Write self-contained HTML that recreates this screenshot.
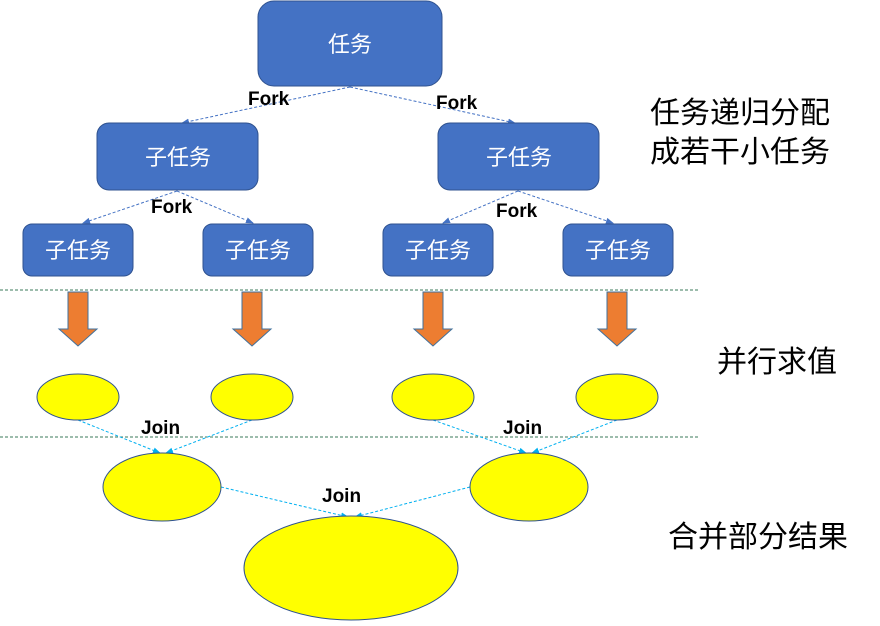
<!DOCTYPE html>
<html><head><meta charset="utf-8"><style>
body{margin:0;background:#fff;width:880px;height:621px;overflow:hidden}
svg text{font-family:"Liberation Sans","Noto Sans CJK SC",sans-serif}
</style></head><body>
<svg width="880" height="621" viewBox="0 0 880 621" xmlns="http://www.w3.org/2000/svg">
<defs>
<marker id="ab" markerWidth="8" markerHeight="8" refX="7" refY="4" orient="auto" markerUnits="userSpaceOnUse"><path d="M0,1 L8,4 L0,7 Z" fill="#4472c4"/></marker>
<marker id="ac" markerWidth="8" markerHeight="8" refX="7" refY="4" orient="auto" markerUnits="userSpaceOnUse"><path d="M0,1 L8,4 L0,7 Z" fill="#00b0f0"/></marker>
</defs>
<!-- separators -->
<line x1="0" y1="290" x2="700" y2="290" stroke="#3a7a5a" stroke-width="1" stroke-dasharray="3,2"/>
<line x1="0" y1="437" x2="700" y2="437" stroke="#3a7a5a" stroke-width="1" stroke-dasharray="3,2"/>
<!-- fork lines -->
<g stroke="#4472c4" stroke-width="1" stroke-dasharray="3,2" fill="none">
<line x1="350" y1="87" x2="182" y2="123" marker-end="url(#ab)"/>
<line x1="350" y1="87" x2="515" y2="123" marker-end="url(#ab)"/>
<line x1="177" y1="191" x2="83" y2="223" marker-end="url(#ab)"/>
<line x1="177" y1="191" x2="253" y2="223" marker-end="url(#ab)"/>
<line x1="518" y1="191" x2="443" y2="223" marker-end="url(#ab)"/>
<line x1="518" y1="191" x2="613" y2="223" marker-end="url(#ab)"/>
</g>
<!-- boxes -->
<g fill="#4472c4" stroke="#2f528f" stroke-width="1">
<rect x="258" y="1" width="184" height="85" rx="16"/>
<rect x="97" y="123" width="161" height="67" rx="12"/>
<rect x="438" y="123" width="161" height="67" rx="12"/>
<rect x="23" y="224" width="110" height="52" rx="9"/>
<rect x="203" y="224" width="110" height="52" rx="9"/>
<rect x="383" y="224" width="110" height="52" rx="9"/>
<rect x="563" y="224" width="110" height="52" rx="9"/>
</g>
<g fill="#fff" font-size="22" text-anchor="middle">
<text x="350" y="52">任务</text>
<text x="178" y="165">子任务</text>
<text x="519" y="165">子任务</text>
<text x="78" y="258">子任务</text>
<text x="258" y="258">子任务</text>
<text x="438" y="258">子任务</text>
<text x="618" y="258">子任务</text>
</g>
<g fill="#000" font-size="19" font-weight="bold">
<text x="248" y="105">Fork</text>
<text x="436" y="109">Fork</text>
<text x="151" y="213">Fork</text>
<text x="496" y="217">Fork</text>
<text x="141" y="434">Join</text>
<text x="503" y="434">Join</text>
<text x="322" y="502">Join</text>
</g>
<!-- orange arrows -->
<g fill="#ed7d31" stroke="#41719c" stroke-width="1">
<path d="M68,292 H88 V329 H97 L78,346 L59,329 H68 Z"/>
<path d="M242,292 H262 V329 H271 L252,346 L233,329 H242 Z"/>
<path d="M423,292 H443 V329 H452 L433,346 L414,329 H423 Z"/>
<path d="M607,292 H627 V329 H636 L617,346 L598,329 H607 Z"/>
</g>
<!-- join lines -->
<g stroke="#00b0f0" stroke-width="1" stroke-dasharray="3,2" fill="none">
<line x1="78" y1="420" x2="160" y2="453" marker-end="url(#ac)"/>
<line x1="252" y1="420" x2="166" y2="453" marker-end="url(#ac)"/>
<line x1="433" y1="420" x2="526" y2="453" marker-end="url(#ac)"/>
<line x1="617" y1="420" x2="532" y2="453" marker-end="url(#ac)"/>
<line x1="221" y1="487" x2="348" y2="517" marker-end="url(#ac)"/>
<line x1="470" y1="487" x2="355" y2="517" marker-end="url(#ac)"/>
</g>
<!-- ellipses -->
<g fill="#ffff00" stroke="#2f528f" stroke-width="1">
<ellipse cx="78" cy="397" rx="41" ry="23"/>
<ellipse cx="252" cy="397" rx="41" ry="23"/>
<ellipse cx="433" cy="397" rx="41" ry="23"/>
<ellipse cx="617" cy="397" rx="41" ry="23"/>
<ellipse cx="162" cy="487" rx="59" ry="34"/>
<ellipse cx="529" cy="487" rx="59" ry="34"/>
<ellipse cx="351" cy="568" rx="107" ry="52"/>
</g>
<!-- side text -->
<g fill="#000" font-size="30">
<text x="650" y="123">任务递归分配</text>
<text x="650" y="162">成若干小任务</text>
<text x="717" y="372">并行求值</text>
<text x="668" y="547">合并部分结果</text>
</g>
</svg>
</body></html>
